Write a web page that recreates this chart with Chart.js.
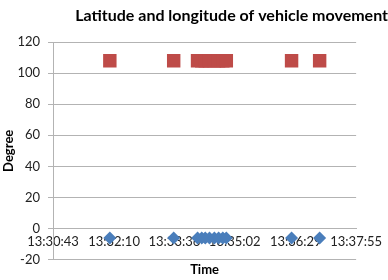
<!DOCTYPE html>
<html lang="en">
<head>
<meta charset="UTF-8">
<title>Latitude and longitude of vehicle movement</title>
<script src="https://cdn.jsdelivr.net/npm/chart.js"></script>
<style>
  html, body { margin: 0; padding: 0; background: #fff; }
  #wrap { width: 388px; height: 280px; }
</style>
</head>
<body>
<div id="wrap"><canvas id="chart"></canvas></div>
<script>
// time of each GPS fix
const fixTimes = ['13:32:04', '13:33:35', '13:34:09', '13:34:15', '13:34:20', '13:34:26',
                  '13:34:33', '13:34:39', '13:34:45', '13:34:50', '13:36:23', '13:37:03'];
const latitude  = [-6.2, -6.2, -6.2, -6.2, -6.2, -6.2, -6.2, -6.2, -6.2, -6.2, -6.2, -6.2];
const longitude = [108, 108, 108, 108, 108, 108, 108, 108, 108, 108, 108, 108];
const timeTicks = ['13:30:43', '13:32:10', '13:33:36', '13:35:02', '13:36:29', '13:37:55'];

function toSec(t) {
    const p = t.split(':').map(Number);
    return p[0] * 3600 + p[1] * 60 + p[2];
}

function points(vals) {
    return fixTimes.map((t, i) => ({ x: toSec(t), y: vals[i] }));
}

const font = 'Lato, "Open Sans", sans-serif';

new Chart(document.getElementById('chart'), {
    type: 'scatter',
    data: {
        datasets: [
            {
                label: 'Latitude',
                data: points(latitude),
                pointStyle: 'rectRot',
                pointRadius: 6.5,
                pointHoverRadius: 6.5,
                backgroundColor: '#4a7ebb',
                borderWidth: 0
            },
            {
                label: 'Longitude',
                data: points(longitude),
                pointStyle: 'rect',
                pointRadius: 9.5,
                pointHoverRadius: 9.5,
                backgroundColor: '#be4b48',
                borderWidth: 0
            }
        ]
    },
    options: {
        responsive: true,
        maintainAspectRatio: false,
        animation: false,
        layout: { padding: 0 },
        plugins: {
            legend: { display: false },
            tooltip: { enabled: false },
            title: {
                display: true,
                text: 'Latitude and longitude of vehicle movement',
                align: 'end',
                color: '#000',
                font: { family: font, size: 16, weight: 'bold' },
                padding: { top: 6, bottom: 17 }
            }
        },
        scales: {
            x: {
                type: 'linear',
                position: { y: 0 },
                min: toSec(timeTicks[0]),
                max: toSec(timeTicks[timeTicks.length - 1]),
                afterBuildTicks: s => { s.ticks = timeTicks.map(t => ({ value: toSec(t) })); },
                ticks: {
                    callback: (v, i) => timeTicks[i],
                    color: '#222',
                    font: { family: font, size: 13 },
                    padding: 6,
                    maxRotation: 0,
                    autoSkip: false
                },
                grid: { display: false, drawTicks: false },
                border: { color: '#b3b3b3' }
            },
            xTitle: {
                type: 'linear',
                position: 'bottom',
                axis: 'x',
                ticks: { display: false },
                grid: { display: false, drawTicks: false },
                border: { display: false },
                title: {
                    display: true,
                    text: 'Time',
                    color: '#000',
                    font: { family: font, size: 13, weight: 'bold' },
                    padding: { top: 3, bottom: 2 }
                }
            },
            y: {
                min: -20,
                max: 120,
                ticks: {
                    stepSize: 20,
                    color: '#222',
                    font: { family: font, size: 13 },
                    padding: 8
                },
                grid: { color: '#b3b3b3', tickLength: 5 },
                border: { color: '#b3b3b3' },
                title: {
                    display: true,
                    text: 'Degree',
                    color: '#000',
                    font: { family: font, size: 13, weight: 'bold' },
                    padding: { top: 1, bottom: 0 }
                },
                afterFit: s => { s.width = 53; }
            },
            yRight: {
                type: 'linear',
                position: 'right',
                ticks: { display: false },
                grid: { display: false, drawTicks: false },
                border: { display: false },
                afterFit: s => { s.width = 31; }
            }
        }
    }
});
</script>
</body>
</html>
